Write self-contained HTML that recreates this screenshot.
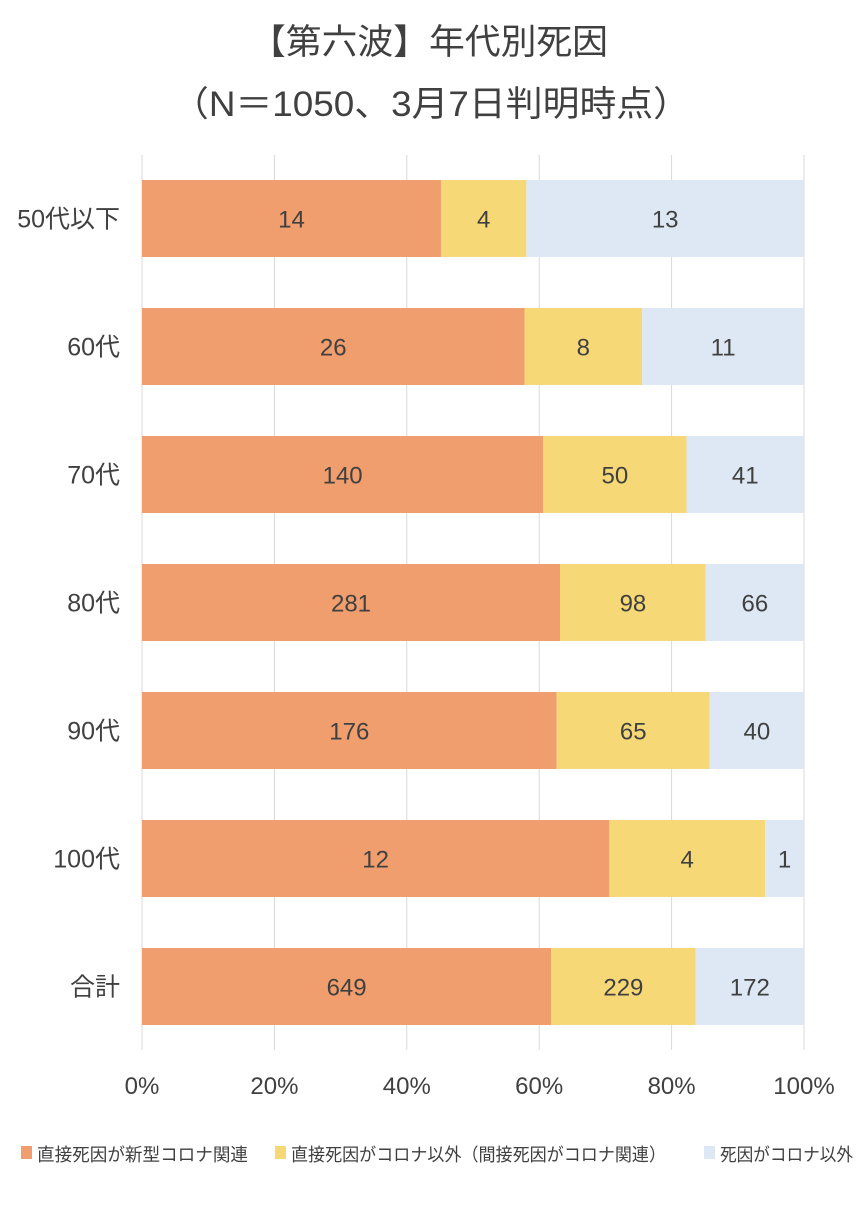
<!DOCTYPE html>
<html><head><meta charset="utf-8"><style>
body{margin:0;background:#fff;}
svg text{font-family:"Liberation Sans","Noto Sans CJK JP",sans-serif;fill:#404040;}
</style></head><body>
<svg id="chart" width="868" height="1200" xmlns="http://www.w3.org/2000/svg">
<text x="429" y="54" text-anchor="middle" font-size="35" textLength="358" lengthAdjust="spacingAndGlyphs">【第六波】年代別死因</text>
<text x="431" y="116" text-anchor="middle" font-size="35" textLength="518" lengthAdjust="spacingAndGlyphs">（N＝1050、3月7日判明時点）</text>
<g id="grid"></g><g id="bars"></g><g id="labels"></g><g id="legend"></g>
</svg>
<script>
const categories=["50代以下","60代","70代","80代","90代","100代","合計"];
const direct=[14,26,140,281,176,12,649];
const indirect=[4,8,50,98,65,4,229];
const other=[13,11,41,66,40,1,172];
const ticks=[0,20,40,60,80,100];
const tickLabels=["0%","20%","40%","60%","80%","100%"];
const seriesNames=["直接死因が新型コロナ関連","直接死因がコロナ以外（間接死因がコロナ関連）","死因がコロナ以外"];
const colors=["#F09E6E","#F7D877","#DEE8F4"];
const NS="http://www.w3.org/2000/svg";
const x0=142,x1=804,yTop=155,pitch=128,barH=77,barOff=25;
const xs=p=>x0+(x1-x0)*p/100;
const yc=i=>yTop+pitch*i;
function mk(tag,attrs,parent){const e=document.createElementNS(NS,tag);for(const k in attrs)e.setAttribute(k,attrs[k]);document.getElementById(parent).appendChild(e);return e;}
ticks.forEach((t,i)=>{
 const l=mk("line",{x1:xs(t),x2:xs(t),y1:yTop,y2:1050,stroke:"#d9d9d9","stroke-width":1},"grid");
 
 
 const tx=mk("text",{x:xs(t),y:1094,"text-anchor":"middle","font-size":24},"grid");
 tx.textContent=tickLabels[i];
 
 
});
const series=[direct,indirect,other];
categories.forEach((c,i)=>{
 const total=direct[i]+indirect[i]+other[i];
 let acc=0;const y=yc(i)+barOff;
 series.forEach((s,k)=>{
  const a=xs(acc/total*100),b=xs((acc+s[i])/total*100);
  const r=mk("rect",{x:a,y:y,width:b-a,height:barH,fill:colors[k]},"bars");
  
  
  const t=mk("text",{x:(a+b)/2,y:y+barH/2+9,"text-anchor":"middle","font-size":24},"labels");
  t.textContent=s[i];
  
  
  acc+=s[i];
 });
 const cl=mk("text",{x:120,y:y+barH/2+9,"text-anchor":"end","font-size":25},"labels");
 cl.textContent=c;
 
 
});
const legX=[21,275,704];
const legW=[211,375,133];
seriesNames.forEach((n,k)=>{
 const r=mk("rect",{x:legX[k],y:1146,width:11,height:13,fill:colors[k]},"legend");
 
 
 const t=mk("text",{x:legX[k]+16,y:1161,"font-size":18,textLength:legW[k],lengthAdjust:"spacingAndGlyphs"},"legend");
 t.textContent=n;
 
 
});
</script>
</body></html>
